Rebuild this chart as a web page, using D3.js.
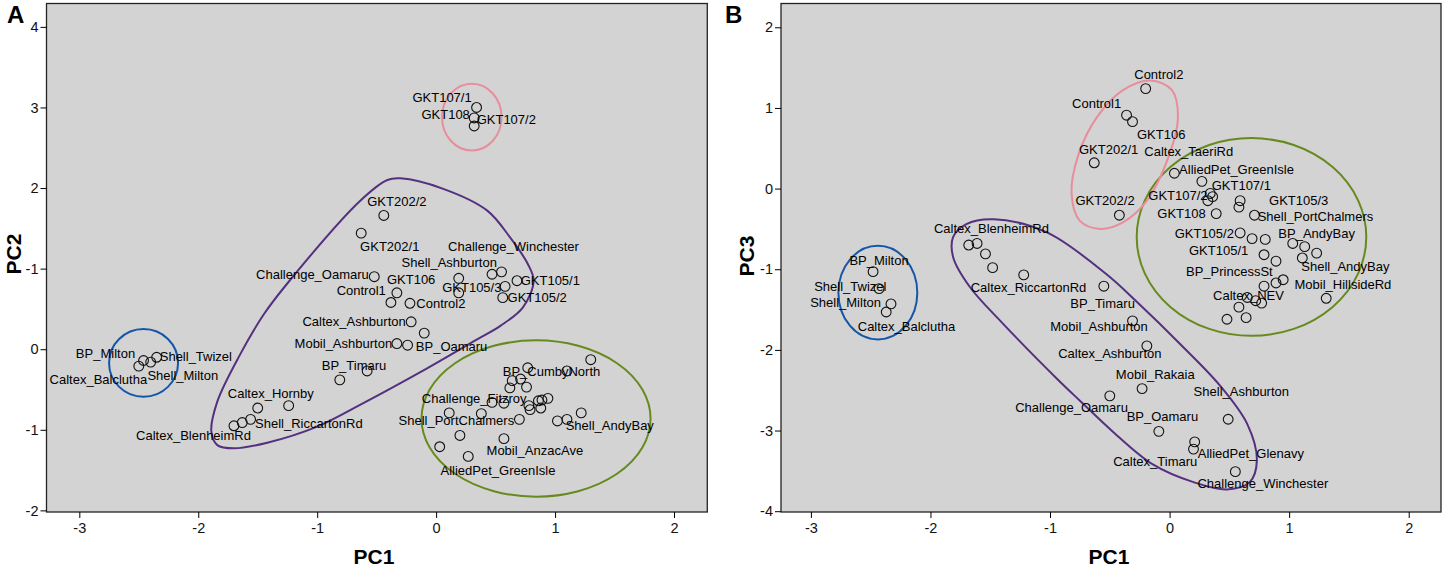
<!DOCTYPE html>
<html>
<head>
<meta charset="utf-8">
<title>PCA of fuel samples</title>
<script src="https://cdn.jsdelivr.net/npm/d3@7"></script>
<style>
  html, body { margin: 0; padding: 0; background: #fff; }
  svg { display: block; }
  text { font-family: "Liberation Sans", Arial, sans-serif; fill: #000; }
  .pt { font-size: 13px; }
  .axis text { font-size: 14.5px; fill: #111; }
  .title { font-size: 21px; font-weight: bold; }
  .letter { font-size: 24px; font-weight: bold; }
</style>
</head>
<body>
<svg id="chart" width="1446" height="568"></svg>
<script>
// panel A points
const pc1A = [0.34,0.32,0.32,
  -0.44,-0.63,-0.52,-0.33,-0.38,-0.22,0.19,0.19,0.47,0.55,0.68,0.58,0.56,-0.21,-0.10,-0.33,-0.24,-0.58,-0.81,-1.24,-1.50,-1.56,-1.63,-1.70,
  -2.35,-2.46,-2.40,-2.50,
  1.30,0.77,1.10,0.64,0.71,0.76,0.62,0.47,0.57,0.78,0.79,0.86,0.89,0.94,0.88,0.11,0.38,0.70,1.22,1.02,1.10,0.20,0.57,0.03,0.27];
const pc2A = [3.00,2.87,2.77,
  1.66,1.44,0.90,0.70,0.58,0.57,0.88,0.70,0.93,0.96,0.85,0.78,0.64,0.34,0.20,0.07,0.05,-0.27,-0.38,-0.70,-0.73,-0.87,-0.91,-0.95,
  -0.10,-0.14,-0.16,-0.21,
  -0.13,-0.23,-0.27,-0.39,-0.37,-0.47,-0.48,-0.66,-0.67,-0.70,-0.75,-0.64,-0.63,-0.61,-0.73,-0.79,-0.80,-0.87,-0.79,-0.89,-0.87,-1.07,-1.11,-1.21,-1.33];

// panel A labels, placed in data units
const namesA = ["GKT107/1","GKT108","GKT107/2","GKT202/2","GKT202/1","Challenge_Winchester","Shell_Ashburton","Challenge_Oamaru","GKT106","GKT105/3","GKT105/1","GKT105/2","Control1","Control2","Caltex_Ashburton","Mobil_Ashburton","BP_Oamaru","BP_Timaru","Caltex_Hornby","Shell_RiccartonRd","Caltex_BlenheimRd","BP_Milton","Shell_Twizel","Caltex_Balclutha","Shell_Milton","BP_CumbyNorth","Challenge_Fitzroy","Shell_PortChalmers","Shell_AndyBay","Mobil_AnzacAve","AlliedPet_GreenIsle"];
const nameXA = [0.05,0.08,0.59,-0.33,-0.39,0.65,0.11,-1.04,-0.21,0.30,0.96,0.85,-0.63,0.04,-0.69,-0.78,0.13,-0.69,-1.39,-1.07,-2.04,-2.78,-2.02,-2.84,-2.13,0.97,0.32,0.17,1.46,0.83,0.52];
const nameYA = [3.13,2.91,2.85,1.83,1.28,1.28,1.08,0.93,0.86,0.77,0.85,0.64,0.73,0.57,0.34,0.07,0.04,-0.20,-0.55,-0.92,-1.07,-0.05,-0.09,-0.37,-0.33,-0.28,-0.61,-0.88,-0.95,-1.26,-1.50];

// panel B points
const pc1B = [-0.20,-0.36,-0.31,-0.63,-0.42,
  0.04,0.27,0.34,0.36,0.32,0.59,0.58,0.39,0.71,0.59,0.69,0.80,1.03,1.13,1.23,0.79,1.11,0.89,0.95,0.89,0.79,1.31,0.65,0.72,0.77,0.58,0.48,0.64,
  -1.68,-1.61,-1.54,-1.48,-1.22,-0.55,-0.31,-0.19,-0.23,-0.50,0.49,-0.09,0.21,0.20,0.55,
  -2.48,-2.43,-2.33,-2.37];
const pc3B = [1.24,0.91,0.83,0.32,-0.33,
  0.19,0.09,-0.06,-0.10,-0.15,-0.15,-0.23,-0.31,-0.33,-0.55,-0.62,-0.63,-0.68,-0.72,-0.80,-0.82,-0.86,-0.90,-1.13,-1.17,-1.21,-1.36,-1.35,-1.39,-1.42,-1.47,-1.62,-1.60,
  -0.70,-0.68,-0.81,-0.98,-1.07,-1.21,-1.64,-1.95,-2.48,-2.57,-2.86,-3.01,-3.14,-3.23,-3.51,
  -1.03,-1.24,-1.43,-1.53];

// panel B labels
const namesB = ["Control2","Control1","GKT106","GKT202/1","Caltex_TaeriRd","AlliedPet_GreenIsle","GKT107/1","GKT107/2","GKT105/3","GKT202/2","GKT108","Shell_PortChalmers","GKT105/2","BP_AndyBay","GKT105/1","Shell_AndyBay","BP_PrincessSt","Mobil_HillsideRd","Caltex_NEV","Caltex_BlenheimRd","BP_Milton","Shell_Twizel","Shell_Milton","Caltex_Balclutha","Caltex_RiccartonRd","BP_Timaru","Mobil_Ashburton","Caltex_Ashburton","Mobil_Rakaia","Shell_Ashburton","Challenge_Oamaru","BP_Oamaru","AlliedPet_Glenavy","Caltex_Timaru","Challenge_Winchester"];
const nameXB = [-0.09,-0.61,-0.07,-0.51,0.16,0.56,0.60,0.07,1.08,-0.54,0.10,1.22,0.29,1.23,0.41,1.47,0.50,1.45,0.66,-1.49,-2.43,-2.67,-2.71,-2.20,-1.18,-0.56,-0.59,-0.50,-0.12,0.60,-0.82,-0.06,0.68,-0.12,0.78];
const nameYB = [1.41,1.05,0.67,0.49,0.46,0.24,0.04,-0.08,-0.15,-0.15,-0.31,-0.34,-0.55,-0.55,-0.77,-0.96,-1.03,-1.19,-1.33,-0.50,-0.89,-1.21,-1.41,-1.71,-1.22,-1.43,-1.71,-2.04,-2.31,-2.52,-2.71,-2.82,-3.28,-3.38,-3.66];

// group outlines, closed curves in data units
const purpleXA = [-0.30,0.06,0.43,0.62,0.77,0.82,0.73,0.54,0.33,-0.08,-0.64,-1.00,-1.42,-1.70,-1.84,-1.89,-1.84,-1.65,-1.45,-1.26,-0.64,-0.41];
const purpleYA = [2.12,1.99,1.72,1.39,1.06,0.85,0.52,0.29,0.11,-0.24,-0.69,-0.96,-1.16,-1.23,-1.19,-1.02,-0.65,-0.07,0.43,0.80,1.84,2.10];
const purpleXB = [-1.47,-1.03,-0.53,-0.27,0.09,0.42,0.65,0.73,0.67,0.48,0.20,-0.14,-0.47,-0.75,-0.94,-1.39,-1.67,-1.81,-1.81,-1.70];
const purpleYB = [-0.38,-0.54,-1.06,-1.41,-1.93,-2.44,-2.92,-3.37,-3.64,-3.73,-3.64,-3.42,-3.02,-2.63,-2.36,-1.68,-1.22,-0.85,-0.60,-0.44];
const pinkXB = [-0.16,0.02,0.07,0,-0.19,-0.39,-0.58,-0.75,-0.82,-0.76,-0.61,-0.39];
const pinkYB = [1.34,1.22,0.88,0.43,-0.15,-0.42,-0.50,-0.40,-0.06,0.43,0.88,1.22];

// ellipses: [cx, cy, rx, ry]
const pinkEllipseA = [0.30,2.88,0.25,0.415];
const blueEllipseA = [-2.46,-0.17,0.29,0.42];
const greenEllipseA = [0.84,-0.86,0.963,0.97];
const blueEllipseB = [-2.44,-1.29,0.33,0.58];
const greenEllipseB = [0.685,-0.60,0.96,1.226];

// tick labels (panel A really does print -1 at the value 1)
const xTicks = [-3,-2,-1,0,1,2];
const yTicksA = [-2,-1,0,1,2,3,4];
const yTickTextA = ["-2","-1","0","-1","2","3","4"];
const yTicksB = [-4,-3,-2,-1,0,1,2];

const purple = "#54307f", pink = "#e88d9b", blue = "#1556a8", green = "#668a1e";
const svg = d3.select("#chart");

function panel(o) {
  const x = d3.scaleLinear().domain(o.xDomain).range([o.left, o.right]);
  const y = d3.scaleLinear().domain(o.yDomain).range([512, 3.5]);
  const g = svg.append("g");

  g.append("rect")
    .attr("x", o.left).attr("y", 3.5)
    .attr("width", o.right - o.left).attr("height", 512 - 3.5)
    .attr("fill", "#d3d3d3")
    .attr("stroke", "#222").attr("stroke-width", 1.3);

  g.append("g").attr("class", "axis")
    .attr("transform", `translate(0,512)`)
    .call(d3.axisBottom(x).tickValues(xTicks).tickSize(6).tickPadding(5)
      .tickFormat(d => String(d)))
    .call(s => s.select(".domain").remove());
  g.append("g").attr("class", "axis")
    .attr("transform", `translate(${o.left},0)`)
    .call(d3.axisLeft(y).tickValues(o.yTicks).tickSize(6).tickPadding(2)
      .tickFormat((d, i) => o.yText ? o.yText[i] : String(d)))
    .call(s => s.select(".domain").remove());

  o.ellipses.forEach(e => {
    g.append("ellipse")
      .attr("cx", x(e[0][0])).attr("cy", y(e[0][1]))
      .attr("rx", x(e[0][2]) - x(0)).attr("ry", y(0) - y(e[0][3]))
      .attr("fill", "none").attr("stroke", e[1]).attr("stroke-width", 2);
  });

  const curve = d3.line().x(d => x(d[0])).y(d => y(d[1])).curve(d3.curveCatmullRomClosed);
  o.outlines.forEach(c => {
    g.append("path")
      .attr("d", curve(d3.zip(c[0], c[1])))
      .attr("fill", "none").attr("stroke", c[2]).attr("stroke-width", 2);
  });

  g.selectAll("circle.p").data(d3.zip(o.px, o.py)).join("circle")
    .attr("class", "p")
    .attr("cx", d => x(d[0])).attr("cy", d => y(d[1]))
    .attr("r", 4.9)
    .attr("fill", "none").attr("stroke", "#111").attr("stroke-width", 1.1);

  g.selectAll("text.pt").data(o.names).join("text")
    .attr("class", "pt")
    .attr("x", (d, i) => x(o.nameX[i])).attr("y", (d, i) => y(o.nameY[i]))
    .attr("dy", "0.35em").attr("text-anchor", "middle")
    .text(d => d);

  g.append("text").attr("class", "title")
    .attr("x", o.xTitleX).attr("y", 564).attr("text-anchor", "middle").text("PC1");
  g.append("text").attr("class", "title")
    .attr("transform", `translate(${o.yTitleX},${o.yTitleY}) rotate(-90)`)
    .attr("text-anchor", "middle").text(o.yTitle);
  g.append("text").attr("class", "letter")
    .attr("x", o.letterX).attr("y", 23).text(o.letter);
}

panel({
  left: 46.5, right: 707.3, xDomain: [-3.276, 2.28], yDomain: [-2.02, 4.29],
  yTicks: yTicksA, yText: yTickTextA,
  px: pc1A, py: pc2A, names: namesA, nameX: nameXA, nameY: nameYA,
  ellipses: [[pinkEllipseA, pink], [blueEllipseA, blue], [greenEllipseA, green]],
  outlines: [[purpleXA, purpleYA, purple]],
  xTitleX: 374, yTitle: "PC2", yTitleX: 21, yTitleY: 254, letter: "A", letterX: 7
});

panel({
  left: 781, right: 1441, xDomain: [-3.25, 2.27], yDomain: [-4.01, 2.295],
  yTicks: yTicksB,
  px: pc1B, py: pc3B, names: namesB, nameX: nameXB, nameY: nameYB,
  ellipses: [[blueEllipseB, blue], [greenEllipseB, green]],
  outlines: [[purpleXB, purpleYB, purple], [pinkXB, pinkYB, pink]],
  xTitleX: 1109, yTitle: "PC3", yTitleX: 754, yTitleY: 256, letter: "B", letterX: 725
});
</script>
</body>
</html>
